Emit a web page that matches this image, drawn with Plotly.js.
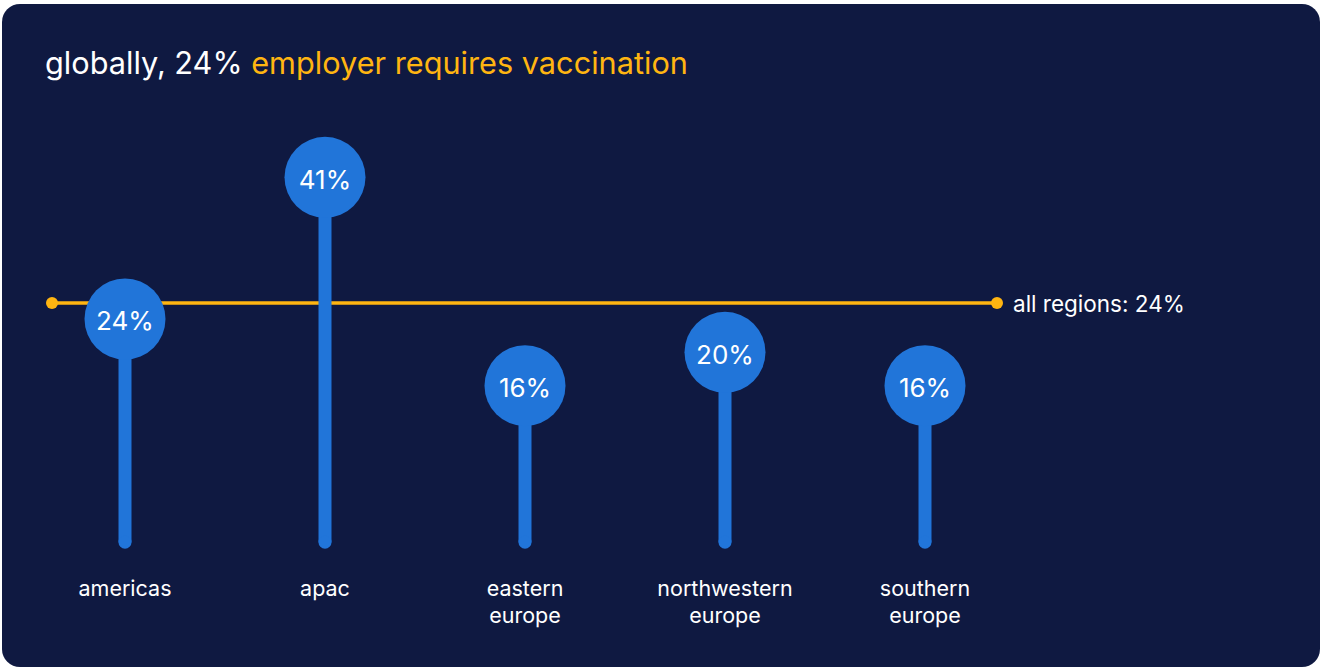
<!DOCTYPE html>
<html>
<head>
<meta charset="utf-8">
<script src="https://cdn.plot.ly/plotly-3.0.1.min.js"></script>
<style>
  html, body { margin: 0; padding: 0; background: #ffffff; width: 1320px; height: 667px; overflow: hidden; }
  #card { position: absolute; left: 2px; top: 4px; width: 1318px; height: 663px; background: #0F1941; border-radius: 18px; }
  #chart { position: absolute; left: 0; top: 0; width: 1320px; height: 667px; }
</style>
</head>
<body>
<div id="card"></div>
<div id="chart"></div>
<script>
// ---- data ----
const regions = ["americas", "apac", "eastern europe", "northwestern europe", "southern europe"];
const regionTickText = ["americas", "apac", "eastern<br>europe", "northwestern<br>europe", "southern<br>europe"];
const sharePct = [24, 41, 16, 20, 16];
const allRegionsPct = 24;
const titleLead = "globally, 24%";
const titleHighlight = "employer requires vaccination";
const avgLabel = "all regions: " + allRegionsPct + "%";

// ---- style constants ----
const NAVY = "#0F1941", BLUE = "#2175D9", YELLOW = "#FFB511", WHITE = "#FFFFFF";
const FONT = "Inter, 'Open Sans', sans-serif";
const Y_MIN = -6, Y_MAX = 45;          // y-axis range (%)
const STEM_BASE = -4.7;                // stems start slightly below zero
const HEAD_DROP = 1.92;                // circle heads sit a little below the value point
const TEXT_DROP = 2.5;                 // labels sit slightly below head centre
const X_RANGE = [-0.365, 4.36];

const idx = regions.map((_, i) => i);

// stems
const stemX = [], stemY = [];
idx.forEach(i => { stemX.push(i, i, null); stemY.push(STEM_BASE, sharePct[i], null); });

const traces = [
  // average line
  {
    x: X_RANGE, y: [allRegionsPct, allRegionsPct],
    mode: "lines+markers", type: "scatter",
    line: { color: YELLOW, width: 3.5 },
    marker: { color: YELLOW, size: 12 },
    hoverinfo: "skip", cliponaxis: false
  },
  // stems
  {
    x: stemX, y: stemY, mode: "lines", type: "scatter",
    line: { color: BLUE, width: 13 },
    hoverinfo: "skip", cliponaxis: false
  },
  // rounded stem bottoms
  {
    x: idx, y: idx.map(() => STEM_BASE), mode: "markers", type: "scatter",
    marker: { color: BLUE, size: 13 },
    hoverinfo: "skip", cliponaxis: false
  },
  // heads
  {
    x: idx, y: sharePct, yaxis: "y2",
    mode: "markers", type: "scatter",
    marker: { color: BLUE, size: 81, line: { width: 0 } },
    hovertext: regions, hoverinfo: "text+y", cliponaxis: false
  },
  // head labels
  {
    x: idx, y: sharePct, yaxis: "y3",
    mode: "text", type: "scatter",
    text: sharePct.map(v => v + "%"),
    textposition: "middle center",
    textfont: { family: FONT, size: 26, color: WHITE },
    hoverinfo: "skip", cliponaxis: false
  }
];

const layout = {
  width: 1320, height: 667,
  paper_bgcolor: "rgba(0,0,0,0)", plot_bgcolor: "rgba(0,0,0,0)",
  margin: { l: 52, r: 323, t: 128, b: 114 },
  showlegend: false,
  font: { family: FONT, color: WHITE },
  title: {
    text: titleLead + " <span style='color:" + YELLOW + "'>" + titleHighlight + "</span>",
    font: { family: FONT, size: 30.7, color: WHITE },
    x: 45 / 1320, xref: "container", xanchor: "left",
    y: 1 - 63 / 667, yref: "container", yanchor: "middle"
  },
  xaxis: {
    range: X_RANGE, showgrid: false, zeroline: false, showline: false,
    tickmode: "array", tickvals: idx, ticktext: regionTickText,
    tickfont: { family: FONT, size: 21.5, color: WHITE },
    ticks: "", ticklabelstandoff: 20, fixedrange: true
  },
  yaxis: {
    range: [Y_MIN, Y_MAX], visible: false, fixedrange: true
  },
  yaxis2: {
    range: [Y_MIN + HEAD_DROP, Y_MAX + HEAD_DROP], overlaying: "y", visible: false, fixedrange: true
  },
  yaxis3: {
    range: [Y_MIN + TEXT_DROP, Y_MAX + TEXT_DROP], overlaying: "y", visible: false, fixedrange: true
  },
  annotations: [{
    text: avgLabel, xref: "paper", x: 1, yref: "y", y: allRegionsPct,
    xanchor: "left", yanchor: "middle", xshift: 14, showarrow: false,
    font: { family: FONT, size: 22.5, color: WHITE }
  }]
};

Plotly.newPlot("chart", traces, layout, { displayModeBar: false, staticPlot: true });
</script>
</body>
</html>
